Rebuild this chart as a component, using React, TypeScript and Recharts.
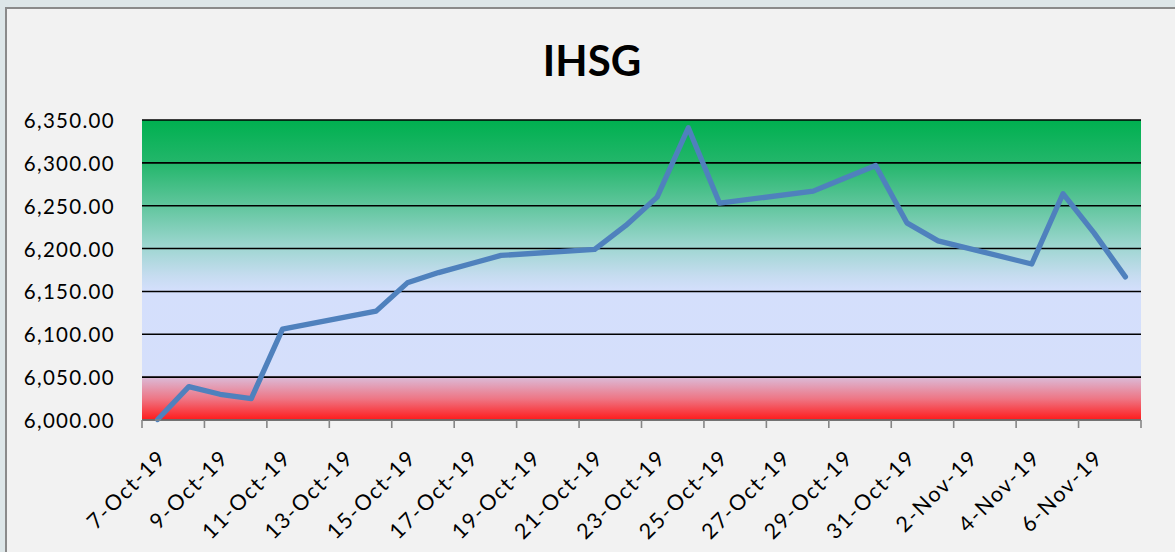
import { CartesianGrid, Line, LineChart, XAxis, YAxis } from "recharts";

// trading days shown on the chart (weekends skipped, axis is date based)
const tradeDates = [
  "2019-10-07", "2019-10-08", "2019-10-09", "2019-10-10", "2019-10-11",
  "2019-10-14", "2019-10-15", "2019-10-16", "2019-10-17", "2019-10-18",
  "2019-10-21", "2019-10-22", "2019-10-23", "2019-10-24", "2019-10-25",
  "2019-10-28", "2019-10-29", "2019-10-30", "2019-10-31", "2019-11-01",
  "2019-11-04", "2019-11-05", "2019-11-06", "2019-11-07",
];
const closeValues = [
  6000.6, 6039, 6030, 6025, 6106,
  6127, 6160, 6172, 6182, 6192,
  6199, 6227, 6260, 6341, 6253,
  6267, 6282, 6297, 6230, 6209,
  6182, 6264, 6218, 6167,
];
const dateLabels = [
  "7-Oct-19", "9-Oct-19", "11-Oct-19", "13-Oct-19", "15-Oct-19", "17-Oct-19",
  "19-Oct-19", "21-Oct-19", "23-Oct-19", "25-Oct-19", "27-Oct-19", "29-Oct-19",
  "31-Oct-19", "2-Nov-19", "4-Nov-19", "6-Nov-19",
];
const yTicks = [6000, 6050, 6100, 6150, 6200, 6250, 6300, 6350];

const START = Date.UTC(2019, 9, 7);
const dayIndex = (d: string) => Math.round((Date.parse(d) - START) / 86400000);

const data = tradeDates.map((d, i) => ({ day: dayIndex(d), close: closeValues[i] }));
const labelTicks = dateLabels.map((_, i) => i * 2);
const markTicks = Array.from({ length: dateLabels.length + 1 }, (_, i) => i * 2 - 0.5);

const FONT = "Lato, 'Open Sans', sans-serif";

const fmt = (v: number) =>
  v.toLocaleString("en-US", { minimumFractionDigits: 2, maximumFractionDigits: 2 });

const ValueTick = (props: any) => {
  const { y, payload } = props;
  return (
    <text
      x={115}
      y={y}
      textAnchor="end"
      dominantBaseline="central"
      fontFamily={FONT}
      fontSize={20.5}
      letterSpacing={1.3}
      fill="#000"
    >
      {fmt(payload.value)}
    </text>
  );
};

const DateTick = (props: any) => {
  const { x, y, payload } = props;
  const ax = x + 10;
  const ay = y + 38;
  return (
    <text
      x={ax}
      y={ay}
      transform={`rotate(-45 ${ax} ${ay})`}
      textAnchor="end"
      fontFamily={FONT}
      fontSize={21.5}
      letterSpacing={1.6}
      fill="#000"
    >
      {dateLabels[payload.value / 2]}
    </text>
  );
};

const NoLabel = () => <g />;

export default function App() {
  return (
    <div
      style={{
        position: "absolute",
        left: 0,
        top: 0,
        width: 1175,
        height: 552,
        background: "#dde6e8",
        overflow: "hidden",
      }}
    >
      <div
        style={{
          position: "absolute",
          left: 5,
          top: 7,
          right: 0,
          bottom: 0,
          background: "#f2f2f2",
          borderLeft: "2px solid #8a8a8a",
          borderTop: "2px solid #8a8a8a",
        }}
      />
      <div
        style={{
          position: "absolute",
          left: 492,
          width: 200,
          top: 34,
          textAlign: "center",
          fontFamily: FONT,
          fontWeight: 700,
          fontSize: 42,
          lineHeight: "52px",
          color: "#000",
        }}
      >
        IHSG
      </div>
      <div style={{ position: "absolute", left: 0, top: 0 }}>
        <LineChart
          width={1175}
          height={552}
          data={data}
          margin={{ top: 120, right: 34, bottom: 0, left: 0 }}
        >
          <defs>
            <linearGradient id="plotBg" x1="0" y1="0" x2="0" y2="1">
              <stop offset="0" stopColor="#00b050" />
              <stop offset="0.14" stopColor="#22b66a" />
              <stop offset="0.28" stopColor="#5ec59b" />
              <stop offset="0.42" stopColor="#9dd6d0" />
              <stop offset="0.52" stopColor="#c6dcf0" />
              <stop offset="0.57" stopColor="#d4dffc" />
              <stop offset="0.85" stopColor="#d5dffb" />
              <stop offset="0.862" stopColor="#dcb6d2" />
              <stop offset="0.93" stopColor="#ee7584" />
              <stop offset="1" stopColor="#ff1a1a" />
            </linearGradient>
          </defs>
          <CartesianGrid
            vertical={false}
            stroke="#000"
            strokeWidth={1.6}
            strokeOpacity={1}
            fill="url(#plotBg)"
            fillOpacity={1}
            xAxisId="a"
          />
          <XAxis
            xAxisId="b"
            dataKey="day"
            type="number"
            domain={[-0.5, 31.5]}
            ticks={labelTicks}
            interval={0}
            height={131}
            axisLine={false}
            tickLine={false}
            tickSize={0}
            tickMargin={0}
            tick={<DateTick />}
          />
          <XAxis
            xAxisId="a"
            dataKey="day"
            type="number"
            domain={[-0.5, 31.5]}
            ticks={markTicks}
            interval={0}
            height={1}
            tick={<NoLabel />}
            tickSize={8}
            axisLine={{ stroke: "#868686", strokeWidth: 1.6 }}
            tickLine={{ stroke: "#868686", strokeWidth: 1.6 }}
          />
          <YAxis
            domain={[6000, 6350]}
            ticks={yTicks}
            interval={0}
            width={142}
            axisLine={false}
            tickLine={false}
            tick={<ValueTick />}
          />
          <Line
            xAxisId="a"
            type="linear"
            dataKey="close"
            stroke="#4f81bd"
            strokeWidth={5.3}
            strokeLinejoin="round"
            strokeLinecap="round"
            dot={false}
            activeDot={false}
            isAnimationActive={false}
          />
        </LineChart>
      </div>
    </div>
  );
}
